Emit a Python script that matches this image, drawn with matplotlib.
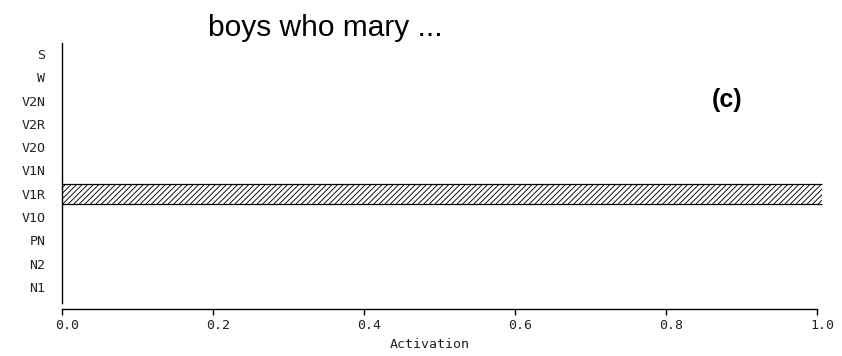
import numpy as np
import matplotlib
matplotlib.use("Agg")
import matplotlib.pyplot as plt
import matplotlib.transforms as mtransforms

# categories bottom -> top, activation per category
categories = ["N1", "N2", "PN", "V1O", "V1R", "V1N", "V2O", "V2R", "V2N", "W", "S"]
activation = [0.0, 0.0, 0.0, 0.0, 1.006, 0.0, 0.0, 0.0, 0.0, 0.0, 0.0]
x_ticks = [0.0, 0.2, 0.4, 0.6, 0.8, 1.0]
x_tick_labels = ["0.0", "0.2", "0.4", "0.6", "0.8", "1.0"]

W, H = 842, 356
fig = plt.figure(figsize=(W / 100, H / 100), dpi=100)

# axes box in pixels: x 62..817 for 0..1, y spine from 43 down to x-axis at 309
left, right, top, bottom = 62, 817, 43, 309
x_max = 1.01
ax = fig.add_axes([left / W, 1 - bottom / H, (right - left) * x_max / W, (bottom - top) / H])

y = np.arange(len(categories))
bar_h = 0.85
plt.rcParams['hatch.linewidth'] = 0.65
ax.barh(y, activation, height=bar_h, color="white", edgecolor="black",
        linewidth=0, hatch="//////")
# only the long edges of the bars are outlined
vals = np.array(activation)
nz = vals > 0
ax.hlines(np.concatenate([y[nz] - bar_h / 2, y[nz] + bar_h / 2]), 0,
          np.concatenate([vals[nz], vals[nz]]), color="black", linewidth=0.9)

# y range: S label at 54 px, N1 label at 287 px
px_per_cat = (287 - 54) / 10
y_top = 10 + (54 - top) / px_per_cat
y_bot = 0 - (bottom - 287) / px_per_cat
ax.set_ylim(y_bot, y_top)
ax.set_xlim(0, x_max)

for s in ["top", "right"]:
    ax.spines[s].set_visible(False)
ax.spines["left"].set_bounds(0 - (303 - 287) / px_per_cat, y_top)
ax.spines["bottom"].set_bounds(0, 1.0)
ax.spines["left"].set_linewidth(1.0)
ax.spines["bottom"].set_linewidth(1.0)

mono = "DejaVu Sans Mono"
ax.set_yticks(y)
ax.set_yticklabels(categories, family=mono, fontsize=9.5, color="#222222")
ax.tick_params(axis="y", length=0, pad=12)
ax.set_xticks(x_ticks)
ax.set_xticklabels(x_tick_labels, family=mono, fontsize=9.5, color="#222222")
ax.tick_params(axis="x", direction="out", length=4, width=1, pad=3)
shift = mtransforms.ScaledTranslation(5 / 100, 0, fig.dpi_scale_trans)
for lbl in ax.get_xticklabels():
    lbl.set_transform(lbl.get_transform() + shift)

ax.set_xlabel("Activation", family=mono, fontsize=9.5, color="#222222")
ax.xaxis.set_label_coords((430 - left) / ((right - left) * x_max), -(344 - bottom) / (bottom - top))
ax.xaxis.label.set_verticalalignment("center")

fig.text(325 / W, 1 - 28 / H, "boys who mary ...", family="Liberation Sans",
         fontsize=21.5, ha="center", va="center")
fig.text(727 / W, 1 - 100 / H, "(c)", family="Liberation Sans",
         fontsize=18, fontweight="bold", ha="center", va="center")

fig.savefig("out.png", dpi=100)
